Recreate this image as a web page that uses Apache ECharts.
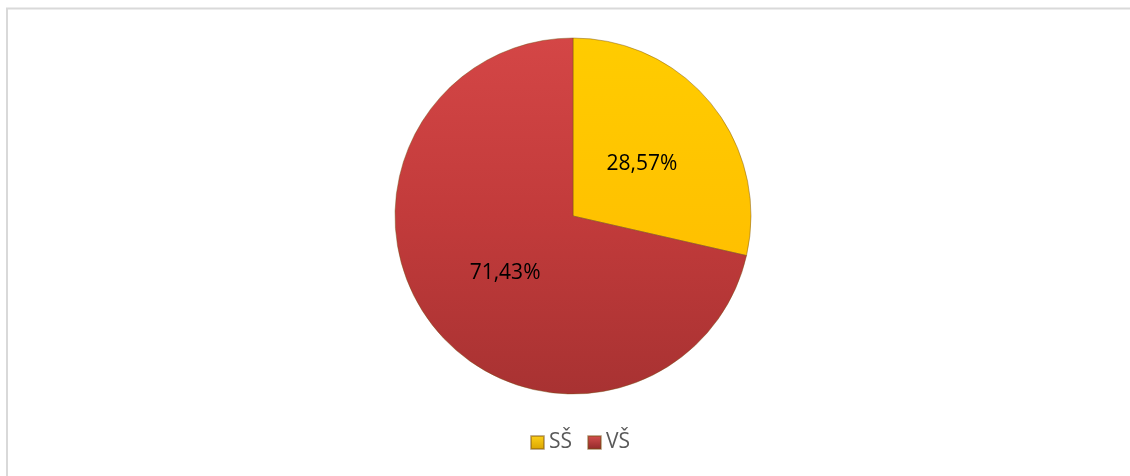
<!DOCTYPE html>
<html><head><meta charset="utf-8">
<script src="https://cdn.jsdelivr.net/npm/echarts@6/dist/echarts.min.js"></script>
<style>html,body{margin:0;padding:0;background:#fff}#c{width:1130px;height:476px}</style>
</head><body><div id="c"></div>
<script>
const categories = ['SŠ', 'VŠ'];
const values = [28.57, 71.43];
const labels = ['28,57%', '71,43%'];

const chart = echarts.init(document.getElementById('c'));
const yellow = new echarts.graphic.LinearGradient(0,0,0,1,[
  {offset:0,color:'#FFCC00'},{offset:1,color:'#FFC000'}]);
const red = new echarts.graphic.LinearGradient(0,0,0,1,[
  {offset:0,color:'#D44646'},{offset:0.5,color:'#C23B3B'},{offset:1,color:'#A83232'}]);
const colors = [yellow, red];
const labelOffsets = [[-3,5],[4,0]];
const legendYellow = new echarts.graphic.LinearGradient(0,0,0,1,[
  {offset:0,color:'#FFD21A'},{offset:1,color:'#D9A300'}]);
const legendRed = new echarts.graphic.LinearGradient(0,0,0,1,[
  {offset:0,color:'#D85050'},{offset:1,color:'#8E2828'}]);

chart.setOption({
  animation:false,
  graphic:[
    {type:'line',shape:{x1:6,y1:8.5,x2:1130,y2:8.5},style:{stroke:'#d9d9d9',lineWidth:2}},
    {type:'line',shape:{x1:7,y1:8,x2:7,y2:476},style:{stroke:'#d9d9d9',lineWidth:2}}
  ],
  legend:{
    bottom:18, left:525,
    itemWidth:13, itemHeight:13, itemGap:15, icon:'rect',
    textStyle:{fontFamily:'Open Sans, Noto Sans, sans-serif', fontSize:21, color:'#595959'},
    data:[{name:categories[0],itemStyle:{color:legendYellow}},{name:categories[1],itemStyle:{color:legendRed}}]
  },
  series:[{
    type:'pie',
    center:[573,216],
    radius:[0,178],
    startAngle:90,
    clockwise:true,
    legendHoverLink:false,
    label:{
      show:true, position:'inside',
      fontFamily:'Open Sans, Noto Sans, sans-serif', fontSize:21, color:'#000',
      formatter:(p)=>labels[p.dataIndex]
    },
    labelLine:{show:false},
    itemStyle:{borderColor:'rgba(120,80,20,0.45)', borderWidth:1},
    data: categories.map((c,i)=>({name:c,value:values[i],itemStyle:{color:colors[i]},label:{offset:labelOffsets[i]}}))
  }]
});
</script></body></html>
